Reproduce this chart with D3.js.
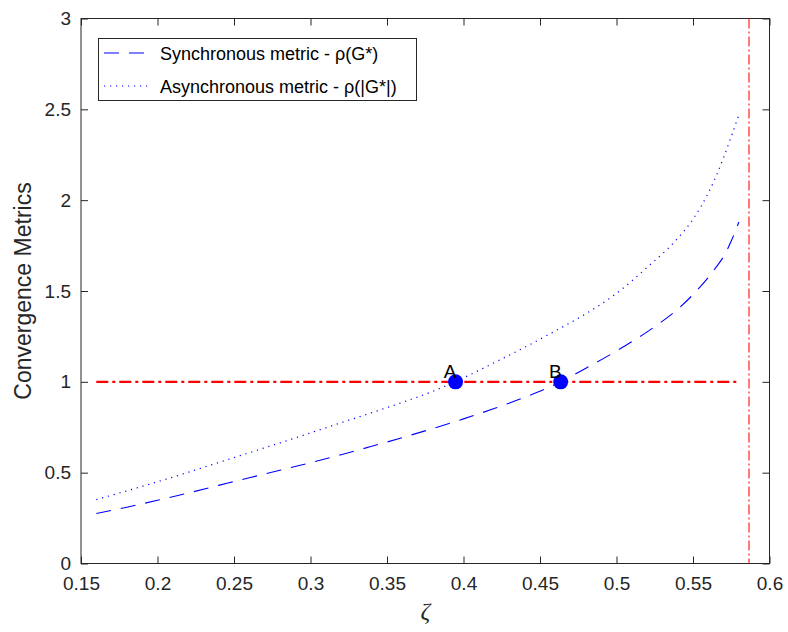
<!DOCTYPE html>
<html>
<head>
<meta charset="utf-8">
<script src="https://cdn.jsdelivr.net/npm/d3@7"></script>
<style>
  body { margin: 0; background: #fff; }
  text { font-family: "Liberation Sans", Arial, Helvetica, sans-serif; }
</style>
</head>
<body>
<svg id="chart" width="788" height="632"></svg>
<script>
// Damping parameter zeta and the two convergence metrics evaluated on it
const zeta = [0.16, 0.18, 0.20, 0.22, 0.24, 0.26, 0.28, 0.30, 0.32, 0.34, 0.36, 0.38, 0.40,
              0.42, 0.44, 0.46, 0.48, 0.50, 0.52, 0.54, 0.55, 0.56, 0.565, 0.57, 0.575, 0.58];
const syncMetric = [0.275, 0.310, 0.348, 0.388, 0.430, 0.472, 0.513, 0.555, 0.599, 0.645, 0.693, 0.743, 0.796,
                    0.853, 0.915, 0.985, 1.075, 1.170, 1.275, 1.400, 1.480, 1.575, 1.630, 1.690, 1.775, 1.880];
const asyncMetric = [0.352, 0.400, 0.450, 0.502, 0.556, 0.610, 0.664, 0.719, 0.775, 0.830, 0.887, 0.948, 1.022,
                     1.105, 1.190, 1.280, 1.375, 1.487, 1.630, 1.790, 1.895, 2.040, 2.130, 2.235, 2.350, 2.470];

// Crossing points of each metric with the unit threshold
const pointLabels = ["A", "B"];
const pointZeta = [0.3948, 0.4635];
const pointValue = [1, 1];

// Unit threshold and the limiting value of zeta
const thresholdValue = 1;
const thresholdRange = [0.16, 0.5805];
const limitZeta = 0.5866;

const xTicks = [0.15, 0.2, 0.25, 0.3, 0.35, 0.4, 0.45, 0.5, 0.55, 0.6];
const yTicks = [0, 0.5, 1, 1.5, 2, 2.5, 3];

const legendLabels = ["Synchronous metric - \u03c1(G*)", "Asynchronous metric - \u03c1(|G*|)"];

const svg = d3.select("#chart");
const plotLeft = 81, plotRight = 769.5, plotTop = 18.5, plotBottom = 563.5;
const x = d3.scaleLinear().domain([0.15, 0.6]).range([plotLeft, plotRight]);
const y = d3.scaleLinear().domain([0, 3]).range([plotBottom, plotTop]);
const axisColor = "#262626";

// Axes: ticks pointing inward on all four sides
const fmt = d => String(d);
const gx = svg.append("g").attr("transform", `translate(0,${plotBottom})`)
  .call(d3.axisBottom(x).tickValues(xTicks).tickFormat(fmt).tickSize(-7).tickPadding(13));
const gxTop = svg.append("g").attr("transform", `translate(0,${plotTop})`)
  .call(d3.axisTop(x).tickValues(xTicks).tickFormat("").tickSize(-7));
const gy = svg.append("g").attr("transform", `translate(${plotLeft},0)`)
  .call(d3.axisLeft(y).tickValues(yTicks).tickFormat(fmt).tickSize(-7).tickPadding(10));
const gyRight = svg.append("g").attr("transform", `translate(${plotRight},0)`)
  .call(d3.axisRight(y).tickValues(yTicks).tickFormat("").tickSize(-7));

[gx, gxTop, gy, gyRight].forEach(g => {
  g.select(".domain").remove();
  g.selectAll(".tick line").attr("stroke", axisColor);
  g.selectAll(".tick text").attr("fill", axisColor).style("font-size", "19px");
});

svg.append("rect")
  .attr("x", plotLeft).attr("y", plotTop)
  .attr("width", plotRight - plotLeft).attr("height", plotBottom - plotTop)
  .attr("fill", "none").attr("stroke", axisColor).attr("stroke-width", 1);

// Axis titles
svg.append("text")
  .attr("transform", `translate(31,${(plotTop + plotBottom) / 2}) rotate(-90)`)
  .attr("text-anchor", "middle")
  .attr("fill", axisColor)
  .style("font-size", "23px")
  .text("Convergence Metrics");

svg.append("text")
  .attr("x", (plotLeft + plotRight) / 2).attr("y", 619)
  .attr("text-anchor", "middle")
  .attr("fill", axisColor)
  .style("font-family", "'Liberation Serif', 'DejaVu Serif', serif")
  .style("font-style", "italic")
  .style("font-size", "24px")
  .text("\u03b6");

// Unit threshold and limiting zeta
svg.append("line")
  .attr("x1", x(thresholdRange[0])).attr("x2", x(thresholdRange[1]))
  .attr("y1", y(thresholdValue)).attr("y2", y(thresholdValue))
  .attr("stroke", "#ff0000").attr("stroke-width", 2.2)
  .attr("stroke-dasharray", "12,4,3,4");

svg.append("line")
  .attr("x1", x(limitZeta)).attr("x2", x(limitZeta))
  .attr("y1", plotTop).attr("y2", plotBottom)
  .attr("stroke", "#ff3333").attr("stroke-width", 1.3)
  .attr("stroke-dasharray", "10,3,2,3");

// Metric curves
const line = d3.line().x(d => x(d[0])).y(d => y(d[1])).curve(d3.curveMonotoneX);
const syncPts = zeta.map((z, i) => [z, syncMetric[i]]);
const asyncPts = zeta.map((z, i) => [z, asyncMetric[i]]);

svg.append("path").datum(syncPts).attr("d", line)
  .attr("fill", "none").attr("stroke", "#0000ff").attr("stroke-width", 1.1)
  .attr("stroke-dasharray", "15,10");

svg.append("path").datum(asyncPts).attr("d", line)
  .attr("fill", "none").attr("stroke", "#0000ff").attr("stroke-width", 1.2)
  .attr("stroke-dasharray", "1.2,4.8");

// Crossing markers and labels
pointZeta.forEach((z, i) => {
  svg.append("circle")
    .attr("cx", x(z)).attr("cy", y(pointValue[i])).attr("r", 7.5)
    .attr("fill", "#0000ff");
  svg.append("text")
    .attr("x", x(z) + 1).attr("y", y(pointValue[i]) - 4)
    .attr("text-anchor", "end")
    .attr("fill", "#000")
    .style("font-size", "19px")
    .text(pointLabels[i]);
});

// Legend
const lg = svg.append("g");
lg.append("rect")
  .attr("x", 98.5).attr("y", 38.5).attr("width", 318).attr("height", 62)
  .attr("fill", "#fff").attr("stroke", axisColor).attr("stroke-width", 1);
const legendDash = ["15,10", "1.2,4.8"];
legendLabels.forEach((lab, i) => {
  const yy = 53 + i * 33;
  lg.append("line")
    .attr("x1", 104).attr("x2", 150).attr("y1", yy).attr("y2", yy)
    .attr("stroke", "#0000ff").attr("stroke-width", 1.1)
    .attr("stroke-dasharray", legendDash[i]);
  lg.append("text")
    .attr("x", 160).attr("y", yy + 6.5)
    .attr("fill", "#000")
    .style("font-size", "18px")
    .text(lab);
});
</script>
</body>
</html>
